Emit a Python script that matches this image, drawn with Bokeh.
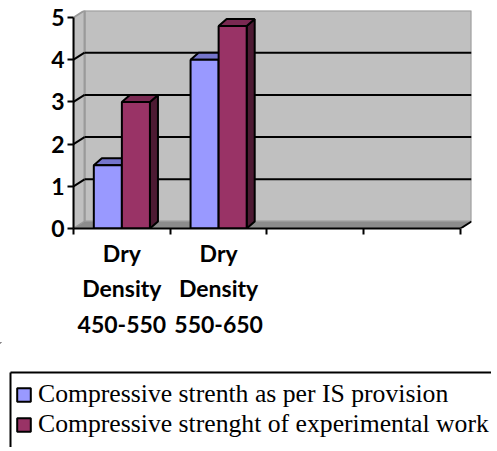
from bokeh.plotting import figure
from bokeh.layouts import column
from bokeh.models import Range1d, LinearAxis, FixedTicker, Legend, LegendItem
from bokeh.embed import file_html
from bokeh.resources import INLINE

# ---- data ----
categories = ["Dry\nDensity\n450-550", "Dry\nDensity\n550-650", "", ""]
is_provision = [1.5, 4.0]
experimental = [3.0, 4.8]
series_names = ["Compressive strenth as per IS provision",
                "Compressive strenght of experimental work"]
y_ticks = [0, 1, 2, 3, 4, 5]

# ---- style constants ----
BLUE, BLUE_TOP, BLUE_SIDE = "#9999FF", "#7575CC", "#5C5C99"
RED, RED_TOP, RED_SIDE = "#993366", "#7A2952", "#4D1A33"
WALL, FLOOR, WALL_EDGE = "#C0C0C0", "#8C8C8C", "#9A9A9A"
bar_dx, bar_dy = 0.083, 0.166
wall_dx, wall_dy = 0.114, 0.166
bar_w = 0.29
offsets = [0.355, 0.645]

n_cat = len(categories)
y_max = max(y_ticks)

p = figure(width=497, height=342,
           x_range=Range1d(0, n_cat + wall_dx), y_range=Range1d(0, y_max + wall_dy),
           output_backend="svg", toolbar_location=None,
           x_axis_type=None, y_axis_type=None,
           min_border_left=73, min_border_right=26, min_border_top=10, min_border_bottom=114)
p.outline_line_color = None
p.background_fill_color = "white"
p.border_fill_color = "white"

# ---- 3D walls ----
p.patch([wall_dx, n_cat + wall_dx, n_cat + wall_dx, wall_dx],
        [wall_dy, wall_dy, y_max + wall_dy, y_max + wall_dy],
        fill_color=WALL, line_color=WALL_EDGE, line_width=2)
p.patch([0, wall_dx, wall_dx, 0], [0, wall_dy, y_max + wall_dy, y_max],
        fill_color=WALL, line_color=WALL_EDGE, line_width=2)
p.patch([0, n_cat, n_cat + wall_dx, wall_dx], [0, 0, wall_dy, wall_dy],
        fill_color=FLOOR, line_color=WALL_EDGE, line_width=1)
p.line([n_cat, n_cat + wall_dx], [0, wall_dy], line_color="black", line_width=2)

grid_vals = [v for v in y_ticks if 0 < v < y_max]
p.multi_line([[wall_dx, n_cat + wall_dx] for v in grid_vals],
             [[v + wall_dy, v + wall_dy] for v in grid_vals],
             line_color="black", line_width=2)
p.multi_line([[0, wall_dx] for v in grid_vals],
             [[v, v + wall_dy] for v in grid_vals],
             line_color="black", line_width=2)

# ---- 3D bars ----
glyph_styles = []
for vals, off, front, top, side in [(is_provision, offsets[0], BLUE, BLUE_TOP, BLUE_SIDE),
                                    (experimental, offsets[1], RED, RED_TOP, RED_SIDE)]:
    xs = [i + off for i in range(len(vals))]
    lefts = [x - bar_w / 2 for x in xs]
    rights = [x + bar_w / 2 for x in xs]
    p.patches([[r, r + bar_dx, r + bar_dx, r] for r in rights],
              [[0, bar_dy, v + bar_dy, v] for v in vals],
              fill_color=side, line_color="black", line_width=2)
    p.patches([[l, r, r + bar_dx, l + bar_dx] for l, r in zip(lefts, rights)],
              [[v, v, v + bar_dy, v + bar_dy] for v in vals],
              fill_color=top, line_color="black", line_width=2)
    p.vbar(x=xs, top=vals, width=bar_w, bottom=0,
           fill_color=front, line_color="black", line_width=2)
    glyph_styles.append(front)

# ---- axes ----
yax = LinearAxis(ticker=FixedTicker(ticks=y_ticks), bounds=(0, y_max))
yax.axis_line_width = 2
yax.major_tick_line_width = 2
yax.major_tick_out = 6
yax.major_tick_in = 0
yax.major_label_standoff = 3
yax.major_label_text_font = "Lato"
yax.major_label_text_font_style = "bold"
yax.major_label_text_font_size = "23px"
yax.major_label_text_color = "black"
p.add_layout(yax, "left")

label_ticks = [i + 0.5 for i, c in enumerate(categories) if c]
xax = LinearAxis(ticker=FixedTicker(ticks=label_ticks, minor_ticks=list(range(n_cat + 1))),
                 bounds=(0, n_cat),
                 major_label_overrides={i + 0.5: c for i, c in enumerate(categories) if c})
xax.axis_line_width = 2
xax.major_tick_line_color = None
xax.major_tick_out = 0
xax.major_tick_in = 0
xax.minor_tick_line_color = "black"
xax.minor_tick_line_width = 2
xax.minor_tick_out = 6
xax.minor_tick_in = 0
xax.major_label_standoff = 4
xax.major_label_text_font = "Lato"
xax.major_label_text_font_style = "bold"
xax.major_label_text_font_size = "23px"
xax.major_label_text_line_height = 1.27
xax.major_label_text_color = "black"
p.add_layout(xax, "below")

# ---- legend strip below the chart (pixel-unit ranges, y downward) ----
LW, LH = 491, 105
lp = figure(width=LW, height=LH, x_range=Range1d(0, LW), y_range=Range1d(LH, 0),
            output_backend="svg", toolbar_location=None,
            x_axis_type=None, y_axis_type=None, min_border=0)
lp.outline_line_color = None
lp.background_fill_color = "white"
lp.border_fill_color = "white"
lp.frame_align = False
# legend box: only its top and left edges fall inside the picture
box_left, box_top = 10, 30
lp.segment(x0=[box_left, box_left], y0=[box_top, box_top],
           x1=[box_left, LW], y1=[LH, box_top], line_color="black", line_width=2)
items = []
for name, col in zip(series_names, glyph_styles):
    # legend swatch renderer: one point placed far outside the visible range
    r = lp.vbar(x=[-5000], top=[-5000], bottom=-5010, width=5,
                fill_color=col, line_color="black", line_width=2)
    items.append(LegendItem(label=name, renderers=[r]))
legend = Legend(items=items, location=(15, 8))
legend.margin = 0
legend.border_line_color = None
legend.background_fill_alpha = 0
legend.label_text_font = "Liberation Serif"
legend.label_text_font_size = "25.7px"
legend.label_text_color = "black"
legend.glyph_width = 17
legend.glyph_height = 17
legend.label_standoff = 6
legend.padding = 6
legend.spacing = -1
lp.add_layout(legend)

open("out.html", "w").write(file_html(column(p, lp, spacing=0), INLINE))
